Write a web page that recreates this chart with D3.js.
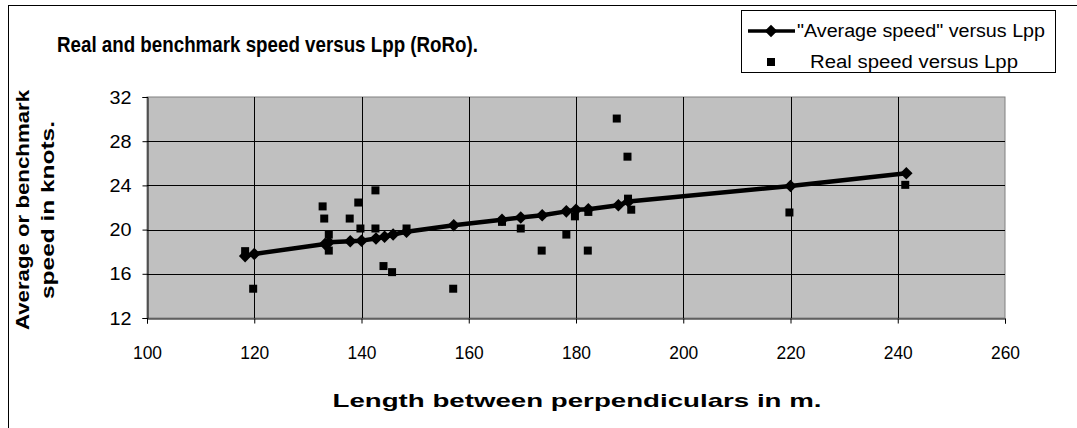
<!DOCTYPE html>
<html>
<head>
<meta charset="utf-8">
<script src="https://cdn.jsdelivr.net/npm/d3@7"></script>
<style>
  html, body { margin: 0; padding: 0; background: #fff; }
  svg { display: block; font-family: "Liberation Sans", Arial, sans-serif; }
</style>
</head>
<body>
<svg id="chart" width="1077" height="428"></svg>
<script>
// ---- data ----
const titleText = "Real and benchmark speed versus Lpp (RoRo).";
const xAxisTitle = "Length between perpendiculars in m.";
const yAxisTitleLines = ["Average or benchmark", "speed in knots."];
const legendLabels = ["\"Average speed\" versus Lpp", "Real speed versus Lpp"];

const xTicks = [100, 120, 140, 160, 180, 200, 220, 240, 260];
const yTicks = [12, 16, 20, 24, 28, 32];

// "Average speed" versus Lpp (line with diamonds)
const avgLpp   = [118.3, 120.0, 133.2, 133.9, 137.9, 140.0, 142.7, 144.3, 145.9, 148.4, 157.2, 166.2, 169.7, 173.7, 178.2, 180.0, 182.3, 187.9, 189.8, 220.0, 241.6];
const avgSpeed = [17.6, 17.8, 18.7, 18.85, 18.95, 19.0, 19.2, 19.35, 19.55, 19.8, 20.4, 20.9, 21.1, 21.3, 21.65, 21.8, 21.85, 22.2, 22.55, 23.95, 25.1];

// Real speed versus Lpp (squares)
const realLpp   = [118.3, 119.8, 132.75, 133.05, 133.9, 133.9, 137.8, 139.4, 139.8, 142.6, 142.6, 144.1, 145.7, 148.4, 157.1, 166.2, 169.7, 173.6, 178.2, 179.8, 182.2, 182.3, 187.6, 189.6, 189.7, 190.3, 219.8, 241.4];
const realSpeed = [18.05, 14.65, 22.1, 21.0, 19.55, 18.1, 21.0, 22.45, 20.1, 23.55, 20.1, 16.7, 16.15, 20.1, 14.65, 20.7, 20.1, 18.1, 19.55, 21.2, 18.1, 21.6, 30.05, 26.6, 22.8, 21.8, 21.55, 24.05];

// ---- drawing ----
const svg = d3.select("#chart");
const plot = { left: 147, right: 1005, top: 97, bottom: 318 };
const FONT = "'Liberation Sans', Arial, sans-serif";

// outer chart frame
svg.append("rect")
  .attr("x", 8.5).attr("y", 5.5).attr("width", 1100).attr("height", 500)
  .attr("fill", "#fff").attr("stroke", "#000").attr("stroke-width", 1);

const x = d3.scaleLinear().domain([100, 260]).range([plot.left, plot.right]);
const y = d3.scaleLinear().domain([12, 32]).range([plot.bottom, plot.top]);

// plot background
svg.append("rect")
  .attr("x", plot.left).attr("y", plot.top)
  .attr("width", plot.right - plot.left).attr("height", plot.bottom - plot.top)
  .attr("fill", "#c0c0c0").attr("stroke", "#808080").attr("stroke-width", 1);

// gridlines
const grid = svg.append("g");
grid.selectAll("line.h").data(yTicks.filter(d => d !== 12 && d !== 32)).join("line")
  .attr("x1", plot.left).attr("x2", plot.right)
  .attr("y1", d => Math.round(y(d)) + 0.5).attr("y2", d => Math.round(y(d)) + 0.5)
  .attr("stroke", "#000").attr("stroke-width", 1);
grid.selectAll("line.v").data(xTicks.filter(d => d !== 100 && d !== 260)).join("line")
  .attr("y1", plot.top).attr("y2", plot.bottom)
  .attr("x1", d => Math.round(x(d)) + 0.5).attr("x2", d => Math.round(x(d)) + 0.5)
  .attr("stroke", "#000").attr("stroke-width", 1);

// axes
const xAxis = d3.axisBottom(x).tickValues(xTicks).tickSize(5).tickPadding(22).tickFormat(d3.format("d"));
const yAxis = d3.axisLeft(y).tickValues(yTicks).tickSize(5).tickPadding(11).tickFormat(d3.format("d"));

const gx = svg.append("g").attr("transform", `translate(0,${plot.bottom + 0.5})`).call(xAxis);
const gy = svg.append("g").attr("transform", `translate(${plot.left + 0.5},0)`).call(yAxis);
[gx, gy].forEach(g => {
  g.select(".domain").attr("stroke", "#000");
  g.selectAll(".tick line").attr("stroke", "#000");
  g.selectAll(".tick text").attr("font-size", 19).attr("fill", "#000").attr("font-family", FONT);
});
gx.selectAll(".tick text").attr("textLength", 29).attr("lengthAdjust", "spacingAndGlyphs");
gy.selectAll(".tick text").attr("textLength", 22).attr("lengthAdjust", "spacingAndGlyphs");

// average line
const line = d3.line().x((d, i) => x(avgLpp[i])).y((d, i) => y(avgSpeed[i]));
svg.append("path")
  .datum(avgLpp)
  .attr("d", line)
  .attr("fill", "none").attr("stroke", "#000").attr("stroke-width", 4.5)
  .attr("stroke-linejoin", "round");

// diamonds
const diamond = d3.symbol().type(d3.symbolDiamond2).size(100);
svg.append("g").selectAll("path").data(avgLpp).join("path")
  .attr("d", diamond)
  .attr("transform", (d, i) => `translate(${x(d)},${y(avgSpeed[i])})`)
  .attr("fill", "#000");

// real speed squares
const sq = 8;
svg.append("g").selectAll("rect").data(realLpp).join("rect")
  .attr("x", d => x(d) - sq / 2)
  .attr("y", (d, i) => y(realSpeed[i]) - sq / 2)
  .attr("width", sq).attr("height", sq)
  .attr("fill", "#000");

// title
svg.append("text")
  .attr("x", 57).attr("y", 52)
  .attr("font-size", 22).attr("font-weight", "bold")
  .attr("textLength", 421).attr("lengthAdjust", "spacingAndGlyphs")
  .text(titleText);

// x axis title
svg.append("text")
  .attr("x", 577).attr("y", 407)
  .attr("text-anchor", "middle")
  .attr("font-size", 19).attr("font-weight", "bold")
  .attr("textLength", 489).attr("lengthAdjust", "spacingAndGlyphs")
  .text(xAxisTitle);

// y axis title (two lines)
const yTitleX = [29, 54];
const yTitleLen = [240, 178];
yAxisTitleLines.forEach((t, i) => {
  svg.append("text")
    .attr("transform", `translate(${yTitleX[i]},210) rotate(-90)`)
    .attr("text-anchor", "middle")
    .attr("font-size", 19).attr("font-weight", "bold")
    .attr("textLength", yTitleLen[i]).attr("lengthAdjust", "spacingAndGlyphs")
    .text(t);
});

// legend
const lg = svg.append("g");
lg.append("rect")
  .attr("x", 741.5).attr("y", 10.5).attr("width", 314).attr("height", 62)
  .attr("fill", "#fff").attr("stroke", "#000").attr("stroke-width", 1);
lg.append("line")
  .attr("x1", 748).attr("x2", 795).attr("y1", 31).attr("y2", 31)
  .attr("stroke", "#000").attr("stroke-width", 3.5);
lg.append("path").attr("d", diamond).attr("transform", "translate(771,31)").attr("fill", "#000");
lg.append("rect").attr("x", 767).attr("y", 58).attr("width", 8).attr("height", 8).attr("fill", "#000");
lg.append("text").attr("x", 797).attr("y", 37).attr("font-size", 18)
  .attr("textLength", 248).attr("lengthAdjust", "spacingAndGlyphs")
  .text(legendLabels[0]);
lg.append("text").attr("x", 810).attr("y", 68).attr("font-size", 18)
  .attr("textLength", 208).attr("lengthAdjust", "spacingAndGlyphs")
  .text(legendLabels[1]);
</script>
</body>
</html>
